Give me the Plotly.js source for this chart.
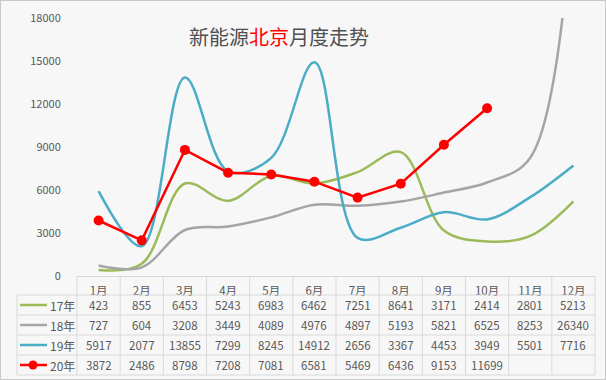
<!DOCTYPE html>
<html>
<head>
<meta charset="utf-8">
<script src="https://cdn.plot.ly/plotly-3.0.1.min.js"></script>
<style>
html,body{margin:0;padding:0;background:#f7f7f7;}
#wrap{position:relative;width:606px;height:380px;}
#chart{width:606px;height:380px;}
#frame{position:absolute;left:0;top:0;width:604px;height:378px;border:1px solid #c9c9c9;pointer-events:none;}
</style>
</head>
<body>
<div id="wrap"><div id="chart"></div><div id="frame"></div></div>
<script>
var months = ['1月','2月','3月','4月','5月','6月','7月','8月','9月','10月','11月','12月'];
var seriesNames = ['17年','18年','19年','20年'];
var y17 = [423, 855, 6453, 5243, 6983, 6462, 7251, 8641, 3171, 2414, 2801, 5213];
var y18 = [727, 604, 3208, 3449, 4089, 4976, 4897, 5193, 5821, 6525, 8253, 26340];
var y19 = [5917, 2077, 13855, 7299, 8245, 14912, 2656, 3367, 4453, 3949, 5501, 7716];
var y20 = [3872, 2486, 8798, 7208, 7081, 6581, 5469, 6436, 9153, 11699, null, null];
var yTicks = [0, 3000, 6000, 9000, 12000, 15000, 18000];

var colors = ['#9bbb59', '#a5a5a5', '#4bacc6', '#ff0000'];
var allSeries = [y17, y18, y19, y20];

// geometry helpers (pixel -> paper)
var L = 77, W = 518, T = 18, H = 258;
function px(p){ return (p - L) / W; }
function py(p){ return (T + H - p) / H; }

var traces = [];
for (var s = 0; s < 3; s++) {
  traces.push({
    x: months, y: allSeries[s], type: 'scatter', mode: 'lines',
    name: seriesNames[s], line: {color: colors[s], width: 2.5, shape: 'spline', smoothing: 1},
    hoverinfo: 'skip'
  });
}
traces.push({
  x: months, y: y20, type: 'scatter', mode: 'lines+markers',
  name: seriesNames[3], line: {color: colors[3], width: 2.5},
  marker: {color: colors[3], size: 10}, hoverinfo: 'skip'
});

var font = '"Noto Sans CJK SC", "Noto Sans", sans-serif';
var txtColor = '#595959';
var border = '#d9d9d9';

var annotations = [];
annotations.push({
  xref: 'paper', yref: 'paper', x: px(279), y: py(36), xanchor: 'center', yanchor: 'middle',
  showarrow: false,
  text: '新能源<span style="color:#ff0000">北京</span>月度走势',
  font: {family: font, size: 20, color: '#505050'}
});

var rowCenters = [305, 325, 345, 365];
for (var r = 0; r < 4; r++) {
  for (var i = 0; i < months.length; i++) {
    var v = allSeries[r][i];
    if (v === null) continue;
    annotations.push({
      xref: 'x', yref: 'paper', x: months[i], y: py(rowCenters[r]),
      xanchor: 'center', yanchor: 'middle', showarrow: false,
      text: String(v), font: {family: font, size: 11.5, color: txtColor}
    });
  }
  annotations.push({
    xref: 'paper', yref: 'paper', x: px(48), y: py(rowCenters[r]),
    xanchor: 'left', yanchor: 'middle', showarrow: false,
    text: seriesNames[r], font: {family: font, size: 12, color: txtColor}
  });
}

var shapes = [];
var colW = W / 12;
for (var k = 0; k <= 12; k++) {
  var xx = px(L + colW * k);
  shapes.push({type: 'line', xref: 'paper', yref: 'paper', x0: xx, x1: xx, y0: py(276), y1: py(375),
    line: {color: border, width: 1}});
}
shapes.push({type: 'line', xref: 'paper', yref: 'paper', x0: px(17), x1: px(17), y0: py(295), y1: py(375),
  line: {color: border, width: 1}});
var hLines = [295, 315, 335, 355, 375];
for (var h = 0; h < hLines.length; h++) {
  shapes.push({type: 'line', xref: 'paper', yref: 'paper', x0: px(17), x1: 1, y0: py(hLines[h]), y1: py(hLines[h]),
    line: {color: border, width: 1}});
}
for (var r2 = 0; r2 < 4; r2++) {
  shapes.push({type: 'line', xref: 'paper', yref: 'paper', x0: px(20), x1: px(47),
    y0: py(rowCenters[r2]), y1: py(rowCenters[r2]), line: {color: colors[r2], width: 2.5}});
}
shapes.push({type: 'circle', xref: 'paper', yref: 'paper',
  x0: px(33 - 4.5), x1: px(33 + 4.5), y0: py(365 + 4.5), y1: py(365 - 4.5),
  fillcolor: colors[3], line: {color: colors[3], width: 0}});

var layout = {
  width: 606, height: 380,
  margin: {l: L, r: 606 - L - W, t: T, b: 380 - T - H},
  paper_bgcolor: '#f7f7f7', plot_bgcolor: '#f7f7f7',
  showlegend: false,
  xaxis: {
    type: 'category', range: [-0.5, 11.5], showgrid: false, zeroline: false,
    showline: true, linecolor: border, linewidth: 1, ticks: '', ticklabelstandoff: 4,
    tickfont: {family: font, size: 11.5, color: txtColor}, fixedrange: true
  },
  yaxis: {
    range: [0, 18000], tickvals: yTicks, ticktext: yTicks.map(String),
    showgrid: false, zeroline: false, showline: false,
    ticks: 'outside', ticklen: 13, tickcolor: 'rgba(0,0,0,0)',
    tickfont: {family: font, size: 11, color: txtColor}, fixedrange: true
  },
  annotations: annotations,
  shapes: shapes
};

Plotly.newPlot('chart', traces, layout, {displayModeBar: false, staticPlot: true});
</script>
</body>
</html>
